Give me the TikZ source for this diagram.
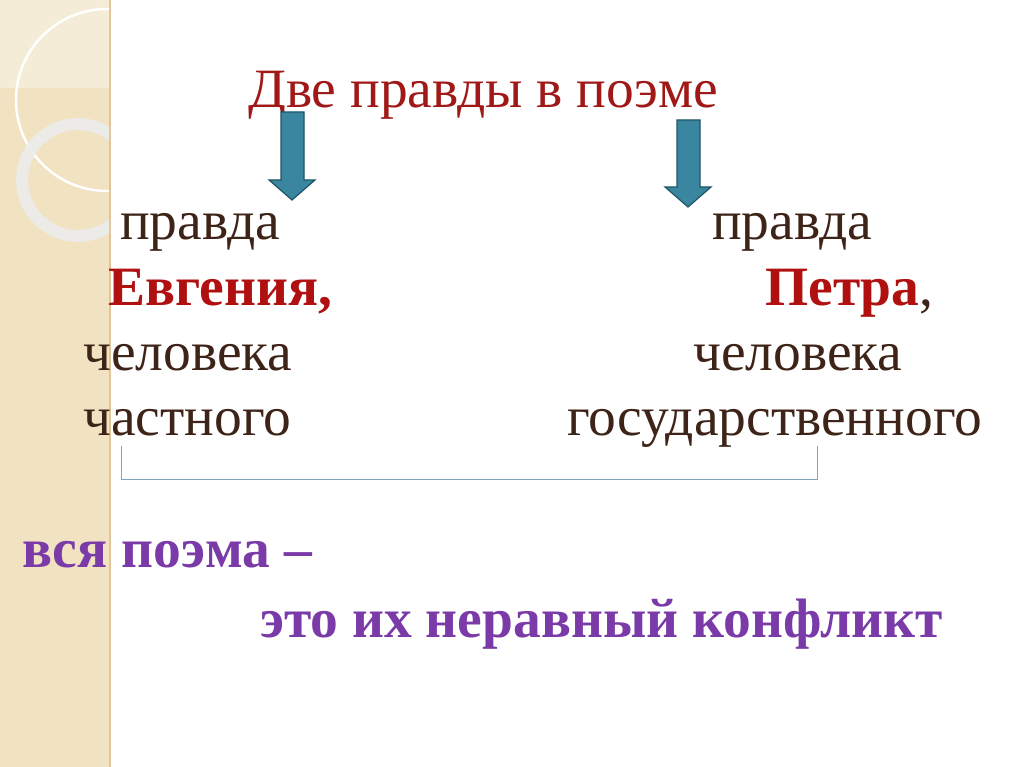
\documentclass[tikz,border=0pt]{standalone}
\usepackage{fontspec}
\setmainfont{Liberation Serif}
\begin{document}
\begin{tikzpicture}[x=1pt,y=-1pt,
  txt/.style={anchor=base west,inner sep=0pt,font=\fontsize{55.5}{60}\selectfont},
  brown/.style={txt,text=tbrown},
  bred/.style={txt,text=tred,font=\fontsize{55.5}{60}\selectfont\bfseries},
  purp/.style={txt,text=tpurp,font=\fontsize{55.5}{60}\selectfont\bfseries},
  darrow/.style={fill=arrowc,draw=arrowd,line width=1.2pt}]
\definecolor{tbrown}{HTML}{3E2418}
\definecolor{tred}{HTML}{B01010}
\definecolor{ttitle}{HTML}{A01818}
\definecolor{tpurp}{HTML}{7A3AA8}
\definecolor{arrowc}{HTML}{3A86A0}
\definecolor{arrowd}{HTML}{1F5566}
\definecolor{strip}{HTML}{F1E2C2}
\definecolor{brk}{HTML}{7FA6BC}
\useasboundingbox (0,0) rectangle (1024,767);
\fill[white] (0,0) rectangle (1024,767);
\fill[strip] (0,0) rectangle (110,767);
\draw[line width=1.5pt,color=strip!70!brown] (110,0) -- (110,767);
\begin{scope}
\clip (0,0) rectangle (109,767);
\fill[white,opacity=0.35] (0,0) rectangle (110,88);
\draw[white,line width=2.5pt] (107,100) circle (91);
\draw[white!85!gray,line width=12pt,opacity=0.9] (78,180) circle (56);
\end{scope}
% title
\node[txt,text=ttitle] (title) at (248,108) {Две правды в поэме};
% arrows
\draw[darrow] (281,112) -- (304,112) -- (304,180) -- (315,180) -- (292,200) -- (269,180) -- (281,180) -- cycle;
\draw[darrow] (677,120) -- (700,120) -- (700,187) -- (711,187) -- (688,207) -- (665,187) -- (677,187) -- cycle;
% left column
\node[brown] (l1) at (120,240) {правда};
\node[bred] (l2) at (108,305) {Евгения,};
\node[brown] (l3) at (83,370) {человека};
\node[brown] (l4) at (83,435) {частного};
% right column
\node[brown] (r1) at (712,240) {правда};
\node[txt,text=tred] (r2) at (765,305) {\textbf{Петра}\textcolor{tbrown}{,}};
\node[brown] (r3) at (693,370) {человека};
\node[brown] (r4) at (567,435) {государственного};
% bracket
\draw[color=brk,line width=1pt] (121,446) -- (121,479) -- (817,479) -- (817,446);
% bottom
\node[purp] (b1) at (22,567) {вся поэма –};
\node[purp] (b2) at (260,637) {это их неравный конфликт};
\end{tikzpicture}
\end{document}
